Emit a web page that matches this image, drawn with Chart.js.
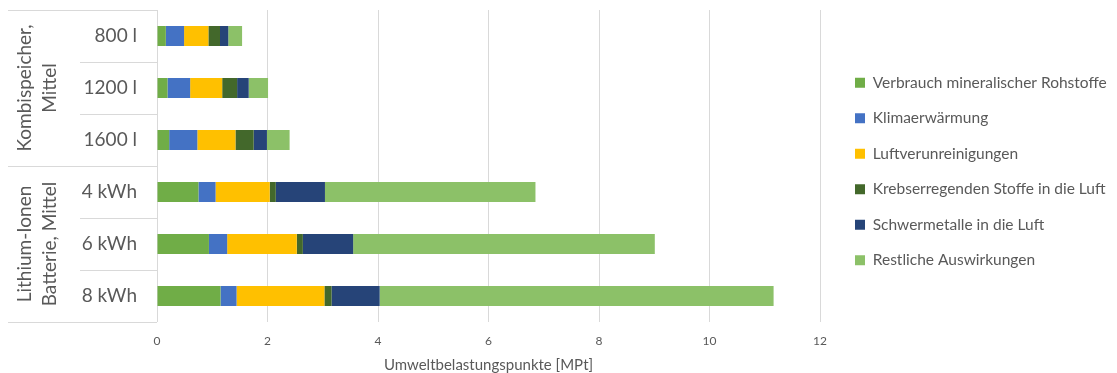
<!DOCTYPE html>
<html>
<head>
<meta charset="utf-8">
<script src="https://cdn.jsdelivr.net/npm/chart.js@4"></script>
<style>
  html, body { margin: 0; padding: 0; background: #fff; }
</style>
</head>
<body>
<canvas id="chart" width="1117" height="373"></canvas>
<script>
// Categories (inner level of the y axis) and their groups (outer level)
const categories = ["800 l", "1200 l", "1600 l", "4 kWh", "6 kWh", "8 kWh"]
const groupLabels = [["Kombispeicher,", "Mittel"], ["Lithium-Ionen", "Batterie, Mittel"]]
const groupSizes = [3, 3]

// Series values (MPt)
const mineralisch = [0.16, 0.19, 0.22, 0.75, 0.94, 1.15]
const klima = [0.33, 0.41, 0.51, 0.31, 0.33, 0.29]
const luftverunreinigung = [0.44, 0.58, 0.69, 0.98, 1.26, 1.59]
const krebserregend = [0.21, 0.27, 0.33, 0.11, 0.11, 0.13]
const schwermetalle = [0.15, 0.21, 0.24, 0.89, 0.91, 0.87]
const restliche = [0.25, 0.35, 0.41, 3.81, 5.46, 7.13]

const seriesNames = [
  "Verbrauch mineralischer Rohstoffe",
  "Klimaerwärmung",
  "Luftverunreinigungen",
  "Krebserregenden Stoffe in die Luft",
  "Schwermetalle in die Luft",
  "Restliche Auswirkungen",
]
const seriesData = [mineralisch, klima, luftverunreinigung, krebserregend, schwermetalle, restliche]
const seriesColors = ["#70AD47", "#4472C4", "#FFC000", "#43682B", "#264478", "#8CC168"]

// X axis ticks
const xMin = 0
const xMax = 12
const xStep = 2

const textColor = "#595959"
const lineColor = "#d9d9d9"
const fontFamily = "Lato, 'Open Sans', sans-serif"

// Draws the two-level category axis (separator lines + rotated group labels)
const groupAxis = {
  id: "groupAxis",
  beforeLayout(chart) {
    const lg = chart.legend
    if (lg && !lg._fixedWidth) {
      const fit = lg.fit
      lg.fit = function () {
        fit.call(this)
        this.width = 297
      }
      lg._fixedWidth = true
    }
  },
  afterLayout(chart) {
    const lg = chart.legend
    const w = lg.width
    lg.left = chart.chartArea.right + 15
    lg.right = lg.left + w
    lg.top -= 20
    lg.bottom -= 20
  },
  afterDraw(chart) {
    const ctx = chart.ctx
    const y = chart.scales.y
    const area = chart.chartArea
    const n = categories.length
    const bounds = [area.top]
    for (let i = 0; i < n - 1; i++) {
      bounds.push((y.getPixelForValue(i) + y.getPixelForValue(i + 1)) / 2)
    }
    bounds.push(area.bottom)

    const groupEdges = [0]
    groupSizes.forEach((s) => groupEdges.push(groupEdges[groupEdges.length - 1] + s))

    ctx.save()
    ctx.strokeStyle = lineColor
    ctx.lineWidth = 1
    bounds.forEach((b, i) => {
      const yy = Math.round(b) + 0.5
      const x0 = groupEdges.includes(i) ? 8 : 80
      ctx.beginPath()
      ctx.moveTo(x0, yy)
      ctx.lineTo(area.left, yy)
      ctx.stroke()
    })

    ctx.fillStyle = textColor
    ctx.font = "19px " + fontFamily
    ctx.textAlign = "center"
    ctx.textBaseline = "middle"
    groupLabels.forEach((lines, g) => {
      const cy = (bounds[groupEdges[g]] + bounds[groupEdges[g + 1]]) / 2
      ctx.save()
      ctx.translate(37.5, cy)
      ctx.rotate(-Math.PI / 2)
      lines.forEach((t, k) => {
        ctx.fillText(t, 0, (k - (lines.length - 1) / 2) * 25)
      })
      ctx.restore()
    })
    ctx.restore()
  },
}

const ctx = document.getElementById("chart").getContext("2d")

new Chart(ctx, {
  type: "bar",
  data: {
    labels: categories,
    datasets: seriesNames.map((name, i) => ({
      label: name,
      data: seriesData[i],
      backgroundColor: seriesColors[i],
      borderWidth: 0,
      barPercentage: 0.385,
      categoryPercentage: 1,
    })),
  },
  options: {
    indexAxis: "y",
    responsive: false,
    animation: false,
    layout: { padding: { top: 10, left: 0, right: 0, bottom: 0 } },
    scales: {
      x: {
        stacked: true,
        min: xMin,
        max: xMax,
        ticks: {
          stepSize: xStep,
          color: textColor,
          font: { family: fontFamily, size: 12 },
          padding: 12,
        },
        grid: { color: lineColor, drawTicks: false },
        border: { display: false },
        title: {
          display: true,
          text: "Umweltbelastungspunkte [MPt]",
          color: textColor,
          font: { family: fontFamily, size: 15, lineHeight: 1 },
          padding: 0,
        },
        afterFit(scale) {
          scale.height = 51
        },
      },
      y: {
        stacked: true,
        grid: { display: false, drawTicks: false },
        border: { display: false },
        ticks: {
          color: textColor,
          font: { family: fontFamily, size: 19 },
          padding: 20,
        },
        afterFit(scale) {
          scale.width = 157
          scale.paddingTop = 0
          scale.paddingBottom = 0
        },
      },
    },
    plugins: {
      legend: {
        position: "right",
        align: "center",
        labels: {
          boxWidth: 10,
          boxHeight: 10,
          padding: 20,
          color: textColor,
          font: { family: fontFamily, size: 15.5 },
        },
      },
      tooltip: { enabled: false },
    },
  },
  plugins: [groupAxis],
})
</script>
</body>
</html>
